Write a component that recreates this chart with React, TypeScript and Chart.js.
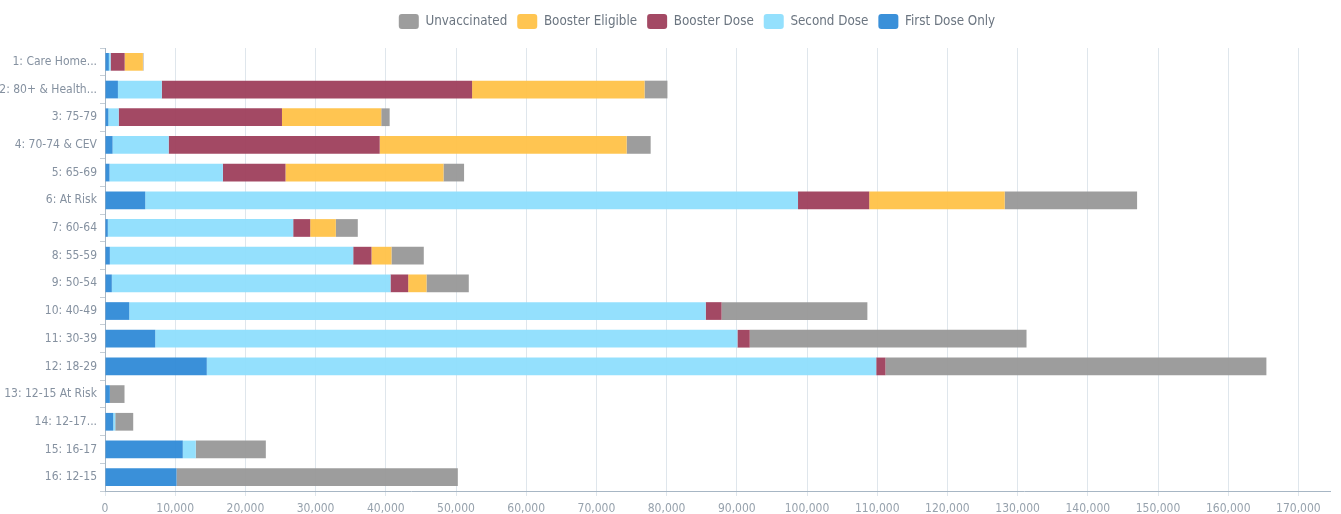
import React, { useEffect, useRef } from 'react';
import { Chart, registerables } from 'chart.js';

Chart.register(...registerables);

const categories = [
  '1: Care Home...',
  '2: 80+ & Health...',
  '3: 75-79',
  '4: 70-74 & CEV',
  '5: 65-69',
  '6: At Risk',
  '7: 60-64',
  '8: 55-59',
  '9: 50-54',
  '10: 40-49',
  '11: 30-39',
  '12: 18-29',
  '13: 12-15 At Risk',
  '14: 12-17...',
  '15: 16-17',
  '16: 12-15',
];

const firstDoseOnly = [550, 1840, 480, 1080, 640, 5730, 400, 690, 970, 3450, 7150, 14500, 690, 1170, 11080, 10190];
const secondDose = [250, 6250, 1470, 7990, 16150, 92990, 26410, 34670, 39700, 82120, 82940, 95360, 0, 290, 1850, 0];
const boosterDose = [2000, 44200, 23260, 30060, 8920, 10140, 2420, 2600, 2520, 2260, 1750, 1310, 0, 0, 0, 0];
const boosterEligible = [2600, 24570, 14140, 35180, 22510, 19300, 3650, 2850, 2610, 0, 0, 0, 0, 0, 0, 0];
const unvaccinated = [80, 3260, 1200, 3420, 2930, 18860, 3130, 4600, 6020, 20770, 39430, 54270, 2090, 2560, 9980, 40070];

const xTicks = [0, 10000, 20000, 30000, 40000, 50000, 60000, 70000, 80000, 90000, 100000, 110000, 120000, 130000, 140000, 150000, 160000, 170000];
const xMax = 174500;

const FONT = '"DejaVu Sans", sans-serif';

export default function App() {
  const ref = useRef<HTMLCanvasElement | null>(null);

  useEffect(() => {
    if (!ref.current) return;
    const legendLayout = {
      id: 'legendLayout',
      beforeInit(chart: any) {
        if (!chart.legend) return;
        const orig = chart.legend.fit;
        chart.legend.fit = function () {
          orig.call(this);
          this.height = 44;
        };
      },
      afterLayout(chart: any) {
        if (!chart.legend) return;
        chart.legend.left += 32;
        chart.legend.right += 32;
      },
    };

    const chart = new Chart(ref.current, {
      type: 'bar',
      data: {
        labels: categories,
        datasets: [
          { label: 'First Dose Only', data: firstDoseOnly, backgroundColor: 'rgba(47,138,215,0.95)', borderWidth: 0 },
          { label: 'Second Dose', data: secondDose, backgroundColor: 'rgba(142,222,253,0.95)', borderWidth: 0 },
          { label: 'Booster Dose', data: boosterDose, backgroundColor: 'rgba(158,63,92,0.95)', borderWidth: 0 },
          { label: 'Booster Eligible', data: boosterEligible, backgroundColor: 'rgba(255,194,72,0.95)', borderWidth: 0 },
          { label: 'Unvaccinated', data: unvaccinated, backgroundColor: 'rgba(152,152,152,0.95)', borderWidth: 0 },
        ],
      },
      options: {
        indexAxis: 'y',
        responsive: true,
        maintainAspectRatio: false,
        animation: false,
        layout: { padding: { top: 4, right: 11, left: 0, bottom: 0 } },
        datasets: { bar: { barPercentage: 0.8, categoryPercentage: 0.8 } },
        plugins: {
          legend: {
            position: 'top',
            reverse: true,
            labels: {
              boxWidth: 20,
              boxHeight: 15,
              padding: 10,
              color: '#6b7580',
              font: { family: FONT, size: 13.3, weight: 'condensed' },
              useBorderRadius: true,
              borderRadius: 3,
            },
          },
          tooltip: { enabled: false },
        },
        scales: {
          x: {
            stacked: true,
            min: 0,
            max: xMax,
            afterBuildTicks: (s: any) => {
              s.ticks = xTicks.map((v) => ({ value: v }));
            },
            ticks: {
              color: '#97a2ad',
              font: { family: FONT, size: 12, weight: 'condensed' },
              padding: 6,
              maxRotation: 0,
              autoSkip: false,
              callback: (v: any) => Number(v).toLocaleString('en-US'),
            },
            grid: { color: '#dfe6ec', tickLength: 5, lineWidth: 1 },
            border: { color: '#a7b6c4', width: 1 },
            afterFit: (s: any) => {
              s.height = 23;
              s.paddingRight = 0;
              s.paddingLeft = 0;
            },
          },
          y: {
            stacked: true,
            ticks: { color: '#8591a0', font: { family: FONT, size: 12, weight: 'condensed' }, padding: 3, autoSkip: false },
            grid: { drawOnChartArea: false, tickLength: 5, color: '#c5ced6' },
            border: { color: '#a7b6c4', width: 1 },
            afterFit: (s: any) => {
              s.width = 105;
            },
          },
        },
      } as any,
      plugins: [legendLayout],
    });
    return () => chart.destroy();
  }, []);

  return (
    <div style={{ position: 'fixed', left: 0, top: 0, width: 1341, height: 514, background: '#fff' }}>
      <canvas ref={ref} />
    </div>
  );
}
